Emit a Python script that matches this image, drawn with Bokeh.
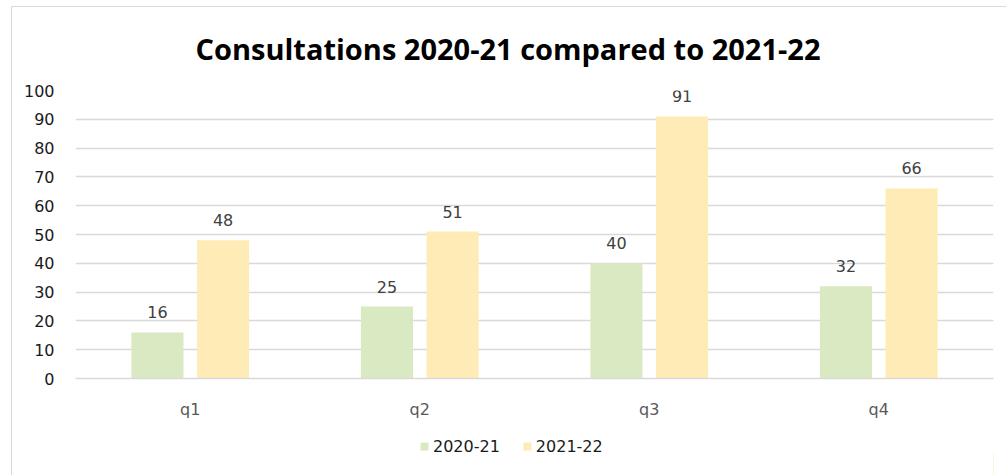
from bokeh.plotting import figure
from bokeh.models import ColumnDataSource, FactorRange, Range1d, LabelSet, Legend, LegendItem
from bokeh.layouts import column
from bokeh.core.properties import value
from bokeh.transform import dodge
from bokeh.embed import file_html
from bokeh.resources import INLINE

quarters = ["q1", "q2", "q3", "q4"]
series_2020_21 = [16, 25, 40, 32]
series_2021_22 = [48, 51, 91, 66]
y_ticks = [0, 10, 20, 30, 40, 50, 60, 70, 80, 90, 100]
title_text = "Consultations 2020-21 compared to 2021-22"
legend_labels = ["2020-21", "2021-22"]

green = "#d9eac2"
yellow = "#ffebb5"
grid = "#d9d9d9"
FONT = "DejaVu Sans"


def strip(height, yr):
    f = figure(width=994, height=height, x_range=Range1d(0, 918), y_range=Range1d(0, yr),
               output_backend="svg", toolbar_location=None,
               min_border_left=63, min_border_right=13, min_border_top=0, min_border_bottom=0)
    f.axis.visible = False
    f.grid.visible = False
    f.outline_line_color = None
    return f


# title strip
tf = strip(70, 70)
tf.text(x=[120], y=[29], text=[title_text], text_font=value("Open Sans"),
        text_font_style="bold", text_font_size="29px", text_color="#000000",
        text_align="left", text_baseline="alphabetic")

src = ColumnDataSource(dict(q=quarters, a=series_2020_21, b=series_2021_22,
                            la=[str(v) for v in series_2020_21],
                            lb=[str(v) for v in series_2021_22]))

p = figure(width=994, height=355, x_range=FactorRange(factors=quarters, range_padding=0),
           y_range=Range1d(0, 100), output_backend="svg", toolbar_location=None,
           min_border_left=63, min_border_right=13, min_border_top=13, min_border_bottom=54)

off = 0.143
w = 0.227
ra = p.vbar(x=dodge("q", -off, range=p.x_range), top="a", width=w, source=src,
            fill_color=green, line_color=None)
rb = p.vbar(x=dodge("q", off, range=p.x_range), top="b", width=w, source=src,
            fill_color=yellow, line_color=None)

for col, lab, d in (("a", "la", -off), ("b", "lb", off)):
    p.add_layout(LabelSet(x=dodge("q", d, range=p.x_range), y=col, text=lab, source=src,
                          text_align="center", text_baseline="alphabetic", y_offset=14,
                          text_font=value(FONT), text_font_size=value("16px"),
                          text_color="#404040"))

p.yaxis.ticker = y_ticks
p.yaxis.axis_line_color = None
p.yaxis.major_tick_line_color = None
p.yaxis.minor_tick_line_color = None
p.yaxis.major_label_text_font = FONT
p.yaxis.major_label_text_font_size = "16px"
p.yaxis.major_label_text_color = "#1a1a1a"
p.yaxis.major_label_standoff = 15

p.xaxis.axis_line_color = grid
p.xaxis.axis_line_width = 1.5
p.xaxis.major_tick_line_color = None
p.xaxis.minor_tick_line_color = None
p.xaxis.major_label_text_font = FONT
p.xaxis.major_label_text_font_size = "16px"
p.xaxis.major_label_text_color = "#595959"
p.xaxis.major_label_standoff = 15

p.xgrid.grid_line_color = None
p.ygrid.grid_line_color = grid
p.ygrid.grid_line_width = 1.5
p.outline_line_color = None

# legend strip below the chart
lf = strip(43, 1)
dummy = ColumnDataSource(dict(x=[5000], top=[0.5]))
la = lf.vbar(x="x", top="top", width=1, source=dummy, fill_color=green, line_color=None)
lb = lf.vbar(x="x", top="top", width=1, source=dummy, fill_color=yellow, line_color=None)
legend = Legend(items=[LegendItem(label=legend_labels[0], renderers=[la]),
                       LegendItem(label=legend_labels[1], renderers=[lb])],
                orientation="horizontal", location=(344, 19),
                glyph_width=10, glyph_height=10, label_standoff=4, spacing=22,
                padding=0, margin=0, border_line_color=None, background_fill_alpha=0,
                label_text_font=FONT, label_text_font_size="16px", label_text_color="#1a1a1a",
                label_height=20)
lf.add_layout(legend)

layout = column(tf, p, lf, spacing=0,
                styles={"margin-left": "11px", "margin-top": "6px",
                        "border-left": "1.5px solid #d9d9d9", "border-top": "1.5px solid #d9d9d9"})

open("out.html", "w").write(file_html(layout, INLINE))
